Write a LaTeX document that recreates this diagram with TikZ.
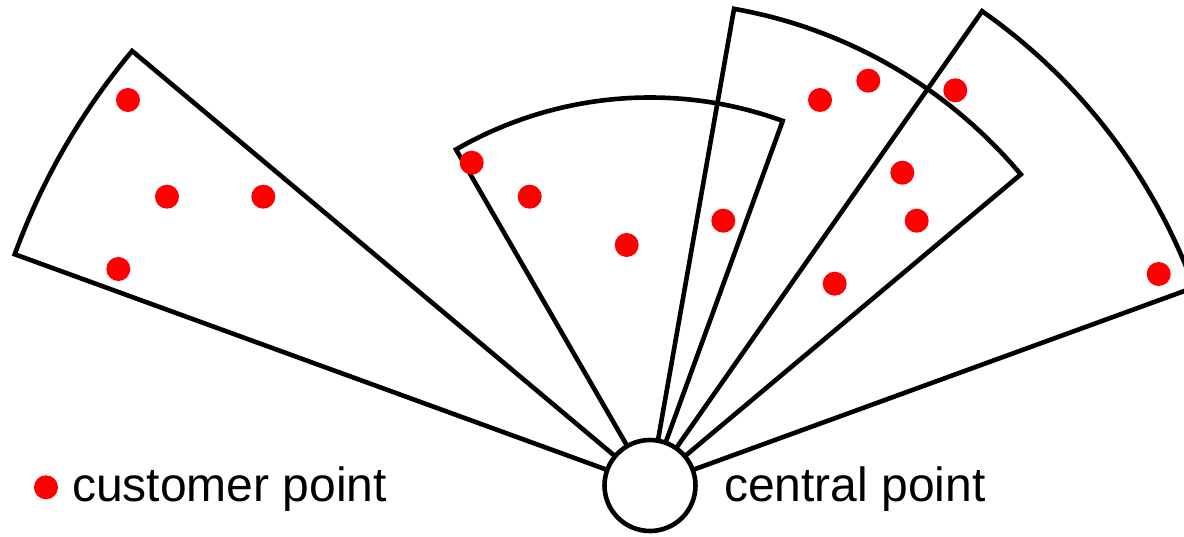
\documentclass[tikz,border=0pt]{standalone}
\usepackage{fontspec}
\setmainfont{Liberation Sans}
\begin{document}
\begin{tikzpicture}[x=1pt,y=1pt,
  sector/.style={draw=black,line width=4.6pt,line join=miter},
  dot/.style={circle,fill=red,draw=none,minimum size=24pt,inner sep=0pt},
  hub/.style={circle,draw=black,fill=white,line width=4.6pt,minimum size=91pt,inner sep=0pt},
  legend/.style={font=\fontsize{48}{58}\selectfont,inner sep=0pt,anchor=base west}]
\useasboundingbox (0,0) rectangle (1184,536);
\clip (0,0) rectangle (1184,536);
\coordinate (C) at (650,50.5);
% service sectors around the central point
\draw[sector] (C) -- ++(160:676) arc[start angle=160,end angle=140,radius=676] -- cycle;
\draw[sector] (C) -- ++(120:388) arc[start angle=120,end angle=70,radius=388] -- cycle;
\draw[sector] (C) -- ++(80:484) arc[start angle=80,end angle=40,radius=484] -- cycle;
\draw[sector] (C) -- ++(55:579) arc[start angle=55,end angle=20,radius=579] -- cycle;
% central point
\node[hub] (central) at (C) {};
% customer points
\node[dot] (p1) at (128,436) {};
\node[dot] (p2) at (167,339.3) {};
\node[dot] (p3) at (263.3,339.3) {};
\node[dot] (p4) at (118.3,267) {};
\node[dot] (p5) at (471.7,373.3) {};
\node[dot] (p6) at (529.7,339.3) {};
\node[dot] (p7) at (626.7,291) {};
\node[dot] (p8) at (723.3,315.3) {};
\node[dot] (p9) at (820,436) {};
\node[dot] (p10) at (868.3,455.3) {};
\node[dot] (p11) at (955.3,445.7) {};
\node[dot] (p12) at (902.3,363.3) {};
\node[dot] (p13) at (916.7,315.3) {};
\node[dot] (p14) at (834.7,252.3) {};
\node[dot] (p15) at (1158.7,262) {};
% legend
\node[dot] (key) at (46,48.7) {};
\node[legend] (keytext) at (72,34.3) {customer point};
\node[legend] (centraltext) at (724,34.3) {central point};
\end{tikzpicture}
\end{document}
